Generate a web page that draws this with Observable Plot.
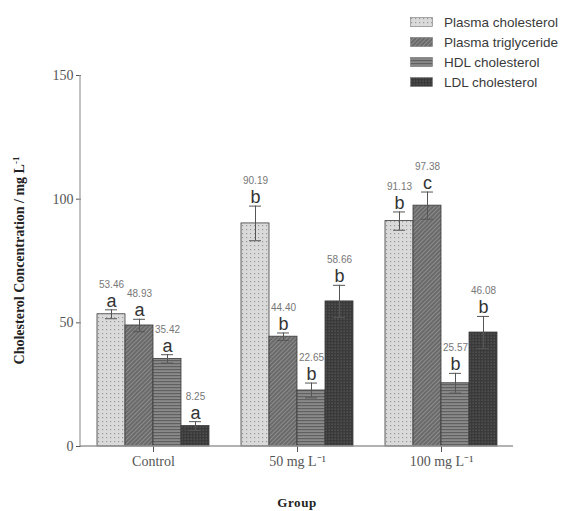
<!DOCTYPE html>
<html><head><meta charset="utf-8">
<script src="https://cdn.jsdelivr.net/npm/d3@7"></script>
<script src="https://cdn.jsdelivr.net/npm/@observablehq/plot@0.6"></script>
<style>
body{margin:0;background:#fff;}
#wrap{position:relative;width:575px;height:511px;}
#legend{position:absolute;left:410px;top:12px;font-family:"Liberation Sans",Arial,sans-serif;font-size:13.5px;color:#3a3a3a;}
.row{display:flex;align-items:center;height:20px;}
.row svg{margin-right:11px;display:block}
</style></head><body><div id="wrap"><div id="chart"></div><div id="legend"></div></div>
<script>
const groups = ["Control", "50 mg L\u207B\u00B9", "100 mg L\u207B\u00B9"];
const series = ["Plasma cholesterol", "Plasma triglyceride", "HDL cholesterol", "LDL cholesterol"];
const controlValues = [53.46, 48.93, 35.42, 8.25];
const mg50Values = [90.19, 44.40, 22.65, 58.66];
const mg100Values = [91.13, 97.38, 25.57, 46.08];
const controlErrors = [1.8, 2.5, 1.7, 1.8];
const mg50Errors = [7.0, 1.5, 3.0, 6.5];
const mg100Errors = [3.7, 5.5, 4.0, 6.5];
const controlLetters = ["a", "a", "a", "a"];
const mg50Letters = ["b", "b", "b", "b"];
const mg100Letters = ["b", "c", "b", "b"];
const yTicks = [0, 50, 100, 150];
const patternIds = ["pPC", "pPT", "pHDL", "pLDL"];

const values = [controlValues, mg50Values, mg100Values];
const errors = [controlErrors, mg50Errors, mg100Errors];
const letters = [controlLetters, mg50Letters, mg100Letters];
const data = [];
groups.forEach((g, i) => series.forEach((s, j) => data.push({
  group: g, series: s, value: values[i][j], err: errors[i][j], letter: letters[i][j]
})));

const common = {fx: "group", x: "series"};
const plot = Plot.plot({
  width: 575, height: 511,
  marginLeft: 80, marginRight: 62, marginTop: 75, marginBottom: 65,
  style: {fontFamily: "'Liberation Serif', 'Times New Roman', serif", fontSize: "14px", color: "#555", background: "#fff"},
  fx: {domain: groups, paddingInner: 0, paddingOuter: 0, label: null, axis: "bottom", tickSize: 6, tickPadding: 4},
  x: {domain: series, paddingInner: 0, paddingOuter: 0.51, axis: null},
  y: {domain: [0, 150], ticks: yTicks, label: null, tickSize: 5, tickPadding: 3},
  color: {domain: series, range: patternIds.map(id => `url(#${id})`)},
  marks: [
    Plot.barY(data, {...common, y: "value", fill: "series", stroke: "#3a3a3a", strokeWidth: 0.8}),
    Plot.ruleX(data, {...common, y1: d => d.value - d.err, y2: d => d.value + d.err, stroke: "#555", strokeWidth: 1}),
    Plot.tickY(data, {...common, y: d => d.value + d.err, insetLeft: 8, insetRight: 8, stroke: "#555", strokeWidth: 1}),
    Plot.tickY(data, {...common, y: d => d.value - d.err, insetLeft: 8, insetRight: 8, stroke: "#555", strokeWidth: 1}),
    Plot.text(data, {...common, y: d => d.value + d.err, text: "letter", dy: -3, lineAnchor: "bottom",
      fontSize: 18, fill: "#333", fontFamily: "'Liberation Sans', Arial, sans-serif"}),
    Plot.text(data, {...common, y: d => d.value + d.err, text: d => d.value.toFixed(2), dy: -22, lineAnchor: "bottom",
      fontSize: 10, fill: "#777", fontFamily: "'Liberation Sans', Arial, sans-serif"})
  ]
});

const svg = d3.select(plot);
const defs = svg.insert("defs", ":first-child");
// Plasma cholesterol: light dotted
let p = defs.append("pattern").attr("id", "pPC").attr("patternUnits", "userSpaceOnUse").attr("width", 4).attr("height", 4);
p.append("rect").attr("width", 4).attr("height", 4).attr("fill", "#dadada");
p.append("rect").attr("x", 1).attr("y", 1).attr("width", 1.2).attr("height", 1.2).attr("fill", "#9a9a9a");
// Plasma triglyceride: diagonal hatch
p = defs.append("pattern").attr("id", "pPT").attr("patternUnits", "userSpaceOnUse").attr("width", 3).attr("height", 3)
  .attr("patternTransform", "rotate(-45)");
p.append("rect").attr("width", 3).attr("height", 3).attr("fill", "#6a6a6a");
p.append("line").attr("x1", 0).attr("y1", 0.5).attr("x2", 3).attr("y2", 0.5).attr("stroke", "#8c8c8c").attr("stroke-width", 1);
// HDL: horizontal stripes
p = defs.append("pattern").attr("id", "pHDL").attr("patternUnits", "userSpaceOnUse").attr("width", 4).attr("height", 3);
p.append("rect").attr("width", 4).attr("height", 3).attr("fill", "#8a8a8a");
p.append("rect").attr("y", 0).attr("width", 4).attr("height", 1.2).attr("fill", "#606060");
// LDL: dark dotted
p = defs.append("pattern").attr("id", "pLDL").attr("patternUnits", "userSpaceOnUse").attr("width", 3).attr("height", 3);
p.append("rect").attr("width", 3).attr("height", 3).attr("fill", "#3a3a3a");
p.append("rect").attr("x", 0.5).attr("y", 0.5).attr("width", 1.3).attr("height", 1.3).attr("fill", "#5a5a5a");

const ys = plot.scale("y");
const y0 = ys.apply(0), yTop = ys.apply(150);
const left = 80, right = 575 - 62;
svg.append("line").attr("x1", left).attr("x2", right).attr("y1", y0).attr("y2", y0).attr("stroke", "#999").attr("stroke-width", 1.5);
svg.append("line").attr("x1", left).attr("x2", left).attr("y1", yTop).attr("y2", y0).attr("stroke", "#999").attr("stroke-width", 1.2);

const yt = svg.append("text").attr("transform", `translate(24,${(yTop + y0) / 2}) rotate(-90)`)
  .attr("text-anchor", "middle").attr("font-family", "'Liberation Serif', serif").attr("font-weight", "bold")
  .attr("font-size", 14).attr("fill", "#222");
yt.append("tspan").text("Cholesterol Concentration / mg L");
yt.append("tspan").attr("dy", -5).attr("font-size", 9).text("-1");

svg.append("text").attr("x", 297).attr("y", 507).attr("text-anchor", "middle")
  .attr("font-family", "'Liberation Serif', serif").attr("font-weight", "bold").attr("font-size", 13)
  .attr("letter-spacing", 0.6).attr("fill", "#222").text("Group");

document.getElementById("chart").appendChild(plot);

const legend = d3.select("#legend");
series.forEach((s, i) => {
  const row = legend.append("div").attr("class", "row");
  const sw = row.append("svg").attr("width", 23).attr("height", 10);
  sw.append("rect").attr("x", 0.5).attr("y", 0.5).attr("width", 22).attr("height", 9)
    .attr("fill", `url(#${patternIds[i]})`).attr("stroke", "#777").attr("stroke-width", 0.6);
  row.append("span").text(s);
});
</script></body></html>
